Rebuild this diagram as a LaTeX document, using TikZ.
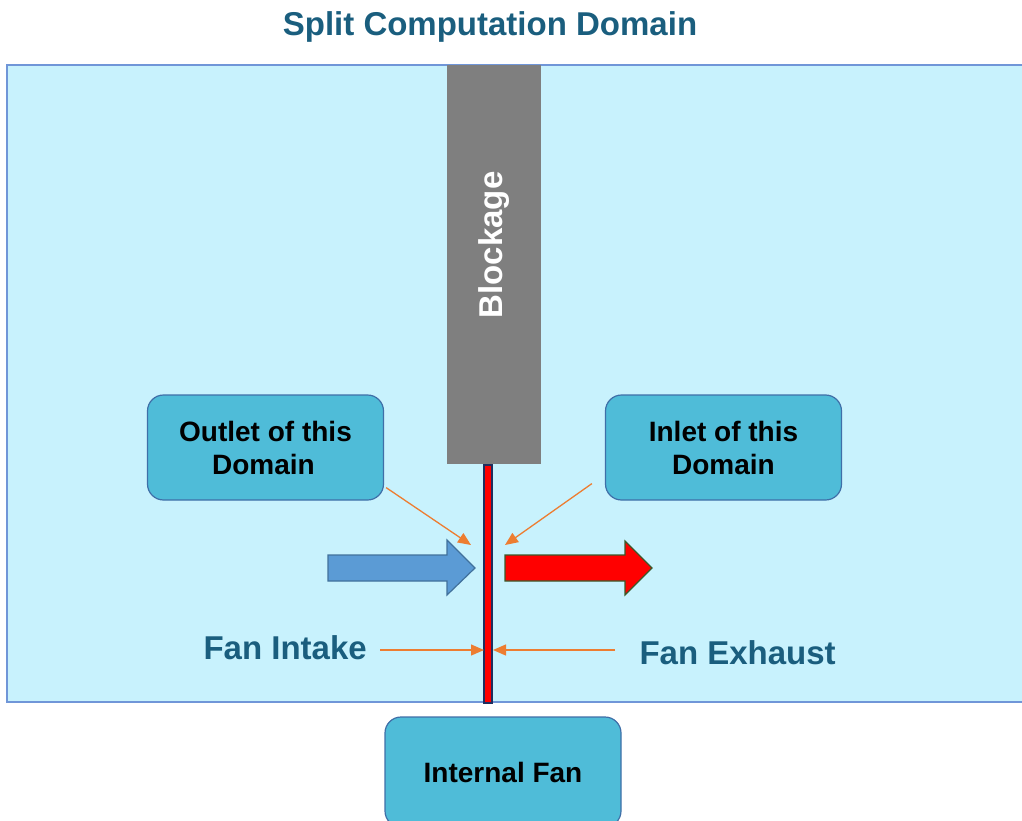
\documentclass[tikz,border=0pt]{standalone}
\usepackage{fontspec}
\setmainfont{Liberation Sans}
\usetikzlibrary{arrows.meta}
\definecolor{domainfill}{HTML}{C8F2FD}
\definecolor{domainline}{HTML}{7096D8}
\definecolor{boxfill}{HTML}{4FBCD8}
\definecolor{boxline}{HTML}{3F6FA8}
\definecolor{blockgray}{HTML}{7F7F7F}
\definecolor{labelblue}{HTML}{1A5E7E}
\definecolor{callout}{HTML}{ED7D31}
\definecolor{flowblue}{HTML}{5B9BD5}
\definecolor{flowblueline}{HTML}{41719C}
\definecolor{exhaustline}{HTML}{3A5A2A}
\definecolor{fanline}{HTML}{1F2F5F}
\tikzset{
  infobox/.style={draw=boxline, line width=1.2pt, fill=boxfill, rounded corners=16pt,
    minimum width=236pt, minimum height=105pt, align=center,
    font=\fontsize{28}{33}\selectfont\bfseries, text=black},
  sidelabel/.style={font=\fontsize{33}{38}\selectfont\bfseries, text=labelblue},
  pointer/.style={draw=callout, line width=1.3pt, -{Triangle[length=13pt,width=11pt]}}
}
\begin{document}
\begin{tikzpicture}[x=1pt,y=-1pt]
\useasboundingbox (0,0) rectangle (1022,821);

% title
\node[sidelabel] (title) at (490,27) {Split Computation Domain};

% computation domain
\draw[fill=domainfill, draw=domainline, line width=1.5pt] (7,65) rectangle (1030,702);
\coordinate (domain) at (515,383);

% blockage
\fill[blockgray] (447,65) rectangle (541,464);
\node[rotate=90, text=white, font=\fontsize{33}{38}\selectfont\bfseries] (block) at (494,245) {Blockage};

% internal fan strip
\draw[fill=red, draw=fanline, line width=1.2pt] (484,465) rectangle (492,703);
\coordinate (fanleft) at (484,650);
\coordinate (fanright) at (493,650);

% labelled boxes
\node[infobox] (outlet) at (265.5,447.5) {Outlet of this\\Domain\hspace*{4pt}};
\node[infobox] (inlet) at (723.5,447.5) {Inlet of this\\Domain};
\node[infobox, minimum height=110pt] (fan) at (503,772) {Internal Fan};

% flow arrows
\draw[fill=flowblue, draw=flowblueline, line width=1.2pt]
  (328,555) -- (447,555) -- (447,540) -- (475,568) -- (447,595) -- (447,581) -- (328,581) -- cycle;
\draw[fill=red, draw=exhaustline, line width=1.2pt]
  (505,555) -- (625,555) -- (625,541) -- (652,568) -- (625,595) -- (625,581) -- (505,581) -- cycle;

% callouts
\coordinate (outletend) at (471,545);
\coordinate (inletend) at (505,545);
\draw[pointer] (outlet.south east) ++(2,-13) coordinate (o1) (o1) -- (outletend);
\draw[pointer] (inlet.south west) ++(-13,-17) coordinate (i1) (i1) -- (inletend);

\node[sidelabel, anchor=west] (intake) at (200,648) {Fan Intake};
\node[sidelabel, anchor=west] (exhaust) at (636,653) {Fan Exhaust};
\coordinate (intakestart) at (380,650);
\coordinate (exhauststart) at (615,650);
\draw[pointer] (intakestart) -- (fanleft);
\draw[pointer] (exhauststart) -- (fanright);
\end{tikzpicture}
\end{document}
